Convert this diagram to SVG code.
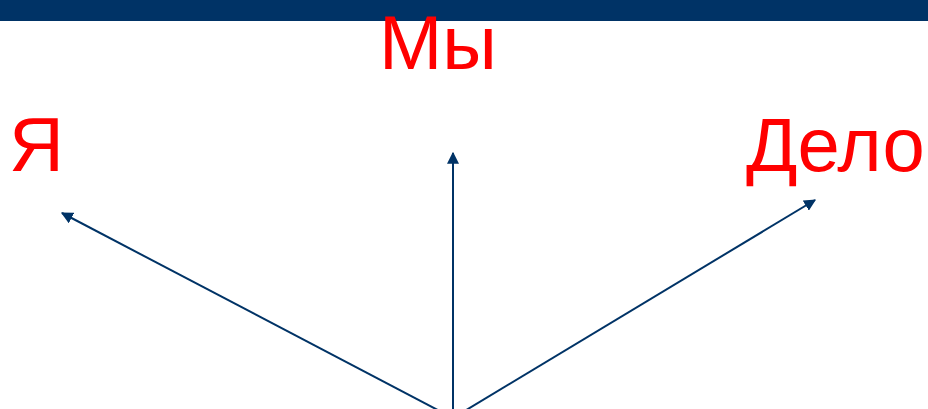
<svg xmlns="http://www.w3.org/2000/svg" width="928" height="409" viewBox="0 0 928 409">
<style>
.lbl{font-family:"Liberation Sans",Arial,sans-serif;font-size:76px;fill:#ff0000}
.con{stroke:#003366;stroke-width:2;fill:none}
</style>
<defs>
<marker id="ah" viewBox="0 0 10 10" refX="9" refY="5" markerWidth="6" markerHeight="6" orient="auto" markerUnits="strokeWidth">
<path d="M0,0 L10,5 L0,10 Z" fill="#003366"/>
</marker>
</defs>
<rect x="0" y="0" width="928" height="21" fill="#003366"/>
<g id="connectors">
<line class="con" x1="453" y1="418" x2="62" y2="213" marker-end="url(#ah)"/>
<line class="con" x1="453" y1="418" x2="453" y2="153" marker-end="url(#ah)"/>
<line class="con" x1="453" y1="418" x2="815" y2="200" marker-end="url(#ah)"/>
</g>
<g id="my"><text class="lbl" x="379" y="69">Мы</text></g>
<g id="ya"><text class="lbl" x="9" y="171">Я</text></g>
<g id="delo"><text class="lbl" x="746" y="171">Дело</text></g>
</svg>
